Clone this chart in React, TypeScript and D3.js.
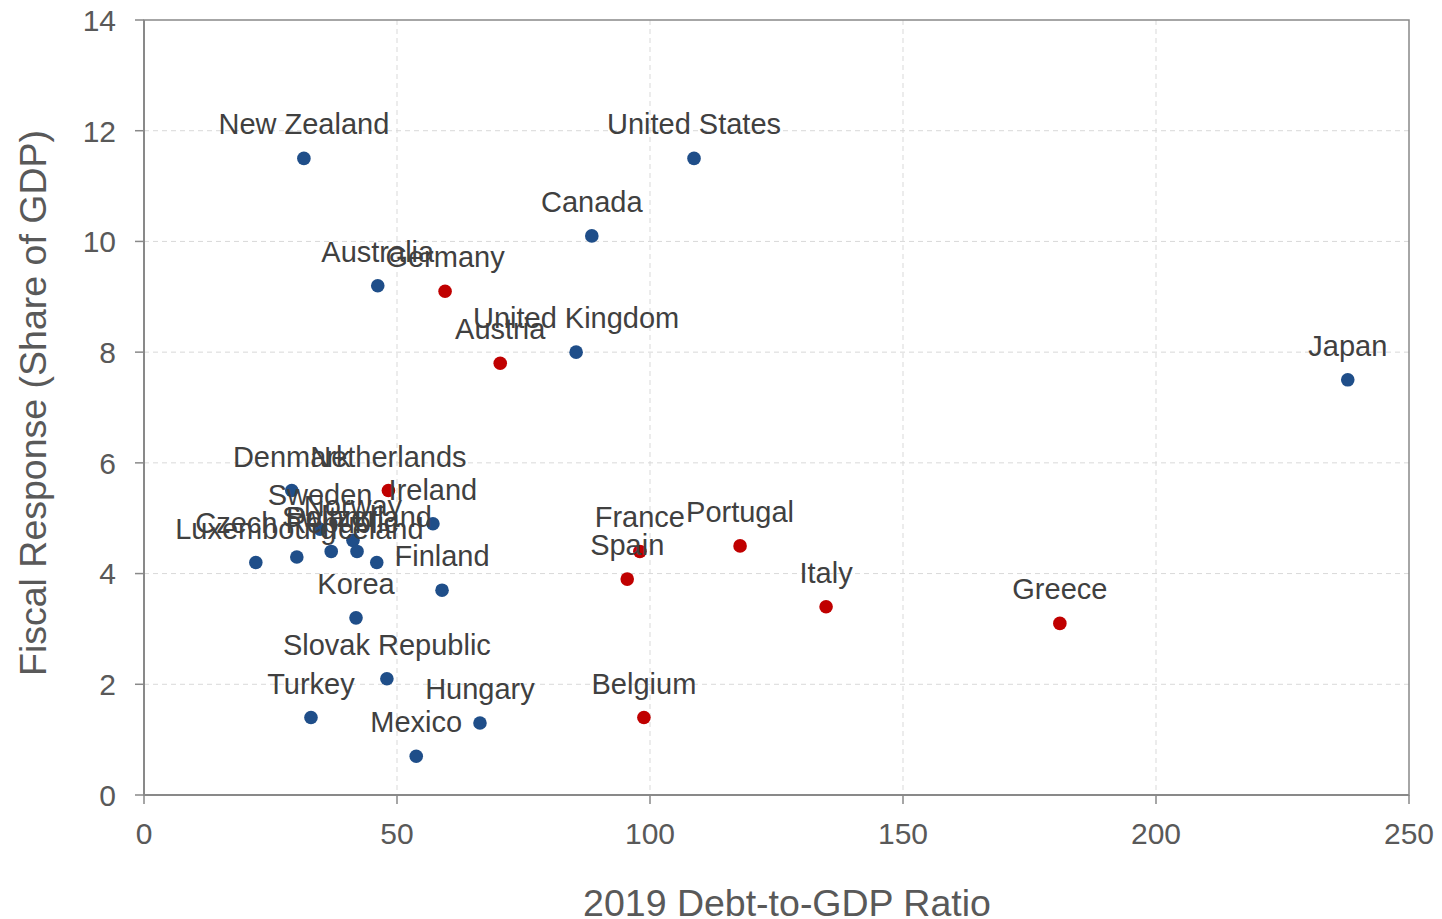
import React from "react";
import * as d3 from "d3";

const countries = [
  "New Zealand", "United States", "Canada", "Australia", "Germany", "United Kingdom",
  "Austria", "Japan", "Denmark", "Netherlands", "Ireland", "Sweden", "Norway",
  "Switzerland", "Poland", "Czech Republic", "Luxembourg", "Iceland", "Finland",
  "Korea", "Slovak Republic", "Turkey", "Hungary", "Mexico", "France", "Spain",
  "Portugal", "Italy", "Greece", "Belgium",
];
const debtRatio = [
  31.6, 108.7, 88.5, 46.2, 59.5, 85.4,
  70.4, 237.9, 29.2, 48.3, 57.1, 34.8, 41.3,
  42.1, 37.0, 30.2, 22.1, 46.0, 58.9,
  41.9, 48.0, 33.0, 66.4, 53.8, 98.0, 95.5,
  117.8, 134.8, 181.0, 98.8,
];
const fiscalResponse = [
  11.5, 11.5, 10.1, 9.2, 9.1, 8.0,
  7.8, 7.5, 5.5, 5.5, 4.9, 4.8, 4.6,
  4.4, 4.4, 4.3, 4.2, 4.2, 3.7,
  3.2, 2.1, 1.4, 1.3, 0.7, 4.4, 3.9,
  4.5, 3.4, 3.1, 1.4,
];
const group = [
  "b", "b", "b", "b", "r", "b",
  "r", "b", "b", "r", "b", "b", "b",
  "b", "b", "b", "b", "b", "b",
  "b", "b", "b", "b", "b", "r", "r",
  "r", "r", "r", "r",
];
const xTicks = [0, 50, 100, 150, 200, 250];
const yTicks = [0, 2, 4, 6, 8, 10, 12, 14];

const W = 1442, H = 919;
const L = 144, R = 1409, T = 20, B = 795;
const FONT = "'Liberation Sans', Arial, sans-serif";
const TEXT = "#404040";
const AXIS = "#898989";

export default function App() {
  const x = d3.scaleLinear().domain([0, 250]).range([L, R]);
  const y = d3.scaleLinear().domain([0, 14]).range([B, T]);
  const color = (g: string) => (g === "r" ? "#C00000" : "#1F4E89");
  const data = countries.map((c, i) => ({ c, x: debtRatio[i], y: fiscalResponse[i], g: group[i] }));

  return (
    <svg width={W} height={H} style={{ position: "absolute", left: 0, top: 0, background: "#fff" }} fontFamily={FONT}>
      {yTicks.filter(t => t > 0 && t < 14).map(t => (
        <line key={"gy" + t} x1={L} x2={R} y1={y(t)} y2={y(t)} stroke="#d9d9d9" strokeWidth={1} strokeDasharray="5,4" />
      ))}
      {xTicks.filter(t => t > 0 && t < 250).map(t => (
        <line key={"gx" + t} x1={x(t)} x2={x(t)} y1={T} y2={B} stroke="#d9d9d9" strokeWidth={1} strokeDasharray="5,4" />
      ))}
      <rect x={L} y={T} width={R - L} height={B - T} fill="none" stroke={AXIS} strokeWidth={1.5} />
      <line x1={L} x2={L} y1={T} y2={B} stroke={AXIS} strokeWidth={2} />
      <line x1={L} x2={R} y1={B} y2={B} stroke={AXIS} strokeWidth={2} />
      {yTicks.map(t => (
        <g key={"ty" + t}>
          <line x1={L - 9} x2={L} y1={y(t)} y2={y(t)} stroke={AXIS} strokeWidth={1.5} />
          <text x={116} y={y(t)} dy="0.36em" textAnchor="end" fontSize={30} fill="#595959">{t}</text>
        </g>
      ))}
      {xTicks.map(t => (
        <g key={"tx" + t}>
          <line x1={x(t)} x2={x(t)} y1={B} y2={B + 9} stroke={AXIS} strokeWidth={1.5} />
          <text x={x(t)} y={833} dy="0.36em" textAnchor="middle" fontSize={30} fill="#595959">{t}</text>
        </g>
      ))}
      <text x={787} y={902} dy="0.36em" textAnchor="middle" fontSize={37.5} fill="#595959">2019 Debt-to-GDP Ratio</text>
      <text transform={`translate(32,403) rotate(-90)`} dy="0.36em" textAnchor="middle" fontSize={37.5} fill="#595959">
        Fiscal Response (Share of GDP)
      </text>
      {data.map(d => (
        <circle key={"p" + d.c} cx={x(d.x)} cy={y(d.y)} r={6.8} fill={color(d.g)} />
      ))}
      {data.map(d => (
        <text key={"l" + d.c} x={x(d.x)} y={y(d.y) - 24} textAnchor="middle" fontSize={29} fill={TEXT}>{d.c}</text>
      ))}
    </svg>
  );
}
